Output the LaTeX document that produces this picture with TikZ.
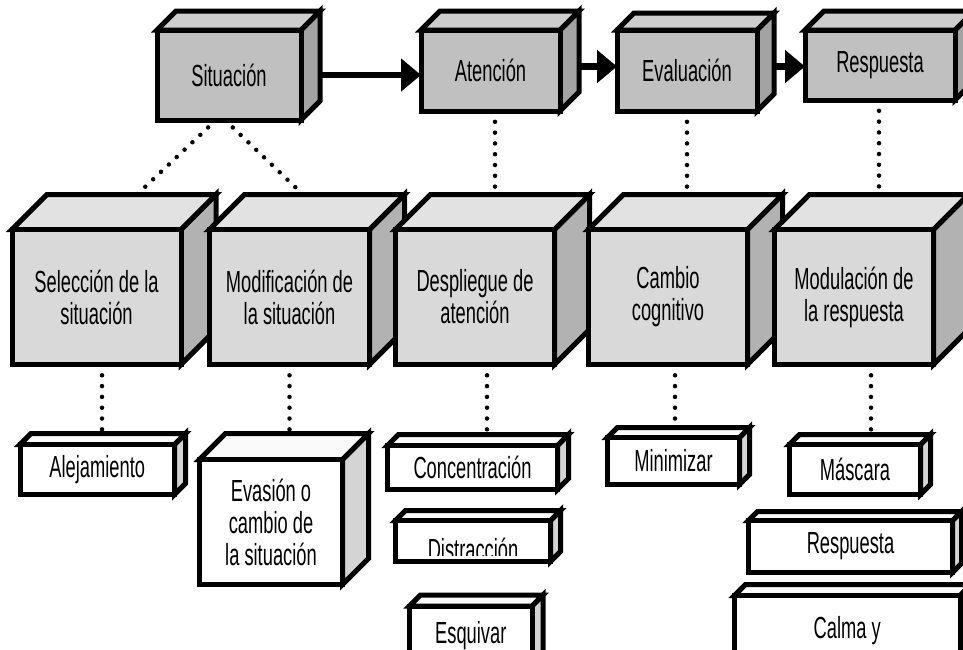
\documentclass[tikz,border=0pt]{standalone}
\usepackage{fontspec}
\setmainfont{Liberation Sans}[FakeStretch=0.6]
\usetikzlibrary{calc,arrows.meta}

% face colours for the three tiers of boxes
\definecolor{hifront}{HTML}{C0C0C0}
\definecolor{hitop}{HTML}{CDCDCD}
\definecolor{hiside}{HTML}{A3A3A3}
\definecolor{midfront}{HTML}{D9D9D9}
\definecolor{midtop}{HTML}{E2E2E2}
\definecolor{midside}{HTML}{B2B2B2}
\definecolor{lofront}{HTML}{FFFFFF}
\definecolor{lotop}{HTML}{FAFAFA}
\definecolor{loside}{HTML}{D4D4D4}

\newcommand\boxfont{\fontsize{30.5}{32}\selectfont}

\tikzset{
  edge/.style={draw=black, line width=5pt, line join=miter},
  facenode/.style={edge, inner sep=0pt, outer sep=0pt, align=center, font=\boxfont},
  labeltext/.style={inner sep=0pt, outer sep=0pt, font=\boxfont},
  dots/.style={line width=4.5pt, line cap=round, dash pattern=on 0pt off 10.8pt},
  flow/.style={line width=6.5pt, -{Triangle[length=20pt,width=32pt]}},
}

% #1 name, (#2,#3) front top-left, (#4,#5) front bottom-right,
% #6 depth, #7 tier prefix, #8 label
\newcommand\cuboid[8]{%
  \draw[edge, fill=#7side] (#4,#3) -- ++(#6,-#6) -- ++(0,#5-#3) -- (#4,#5) -- cycle;
  \draw[edge, fill=#7top] (#2,#3) -- ++(#6,-#6) -- ++(#4-#2,0) -- (#4,#3) -- cycle;
  \node[facenode, fill=#7front, minimum width={#4-#2}, minimum height={#5-#3}]
    (#1) at ({(#2+#4)/2},{(#3+#5)/2}) {#8};
  \coordinate (#1-back) at ($(#1.north)+(#6,-#6)$);
}

\begin{document}
\begin{tikzpicture}[x=1pt, y=-1pt]
\useasboundingbox (0,0) rectangle (963,649);
\clip (0,0) rectangle (963,649);
\fill[white] (0,0) rectangle (963,649);

% reference points of the boxes, needed by the dotted links drawn underneath
\path (229,75) node[minimum width=144, minimum height=90, inner sep=0pt, outer sep=0pt] (sit) {};
\path (490.5,70.5) node[minimum width=139, minimum height=81, inner sep=0pt, outer sep=0pt] (ate) {};
\path (687,70.5) node[minimum width=140, minimum height=81, inner sep=0pt, outer sep=0pt] (eva) {};
\path (880,65) node[minimum width=150, minimum height=70, inner sep=0pt, outer sep=0pt] (res) {};
\path (96.5,297) node[minimum width=169, minimum height=135, inner sep=0pt, outer sep=0pt] (sel) {};
\path (289.5,297) node[minimum width=160, minimum height=135, inner sep=0pt, outer sep=0pt] (modi) {};
\path (475,297) node[minimum width=159, minimum height=135, inner sep=0pt, outer sep=0pt] (des) {};
\path (668,297) node[minimum width=159, minimum height=135, inner sep=0pt, outer sep=0pt] (cam) {};
\path (854,297) node[minimum width=159, minimum height=135, inner sep=0pt, outer sep=0pt] (modu) {};
\coordinate (sel-back) at (131.5,194.5);
\coordinate (modi-back) at (324.5,194.5);
\coordinate (des-back) at (510,194.5);
\coordinate (cam-back) at (703,194.5);
\coordinate (modu-back) at (889,194.5);
\coordinate (ale-back) at (108.25,433.5);
\coordinate (evas-back) at (297,433.5);
\coordinate (con-back) at (483.5,434.5);
\coordinate (mini-back) at (683.5,427.5);
\coordinate (mas-back) at (865,434.5);

% dotted links
\draw[dots] ($(sit.south)+(-13,0)$) -- ($(sel-back)+(5.5,0)$);
\draw[dots] ($(sit.south)+(-4,0)$) -- ($(modi-back)+(-21.5,0)$);
\draw[dots] ($(ate.south)+(4.5,0)$) -- ($(ate.south |- des-back)+(4.5,0)$);
\draw[dots] (eva.south) -- (eva.south |- cam-back);
\draw[dots] ($(res.south)+(-1,0)$) -- ($(res.south |- modu-back)+(-1,0)$);
\draw[dots] ($(sel.south)+(5.5,0)$) -- ($(sel.south |- ale-back)+(5.5,0)$);
\draw[dots] (modi.south) -- (modi.south |- evas-back);
\draw[dots] ($(des.south)+(12,0)$) -- ($(des.south |- con-back)+(12,0)$);
\draw[dots] ($(cam.south)+(7,0)$) -- ($(cam.south |- mini-back)+(7,0)$);
\draw[dots] ($(modu.south)+(17,0)$) -- ($(modu.south |- mas-back)+(17,0)$);

% process stages
\cuboid{sit}{157}{30}{301}{120}{19}{hi}{Situación}
\cuboid{ate}{421}{30}{560}{111}{19}{hi}{Atención}
\cuboid{eva}{617}{30}{757}{111}{17}{hi}{Evaluación}
\cuboid{res}{805}{30}{955}{100}{19}{hi}{Respuesta}

% regulation strategies
\cuboid{sel}{12}{229.5}{181}{364.5}{35}{mid}{Selección de la\\situación}
\cuboid{modi}{209.5}{229.5}{369.5}{364.5}{35}{mid}{Modificación de\\la situación}
\cuboid{des}{395.5}{229.5}{554.5}{364.5}{35}{mid}{Despliegue de\\atención}
\cuboid{cam}{588.5}{229.5}{747.5}{364.5}{35}{mid}{Cambio\\cognitivo}
\cuboid{modu}{774.5}{229.5}{933.5}{364.5}{35}{mid}{Modulación de\\la respuesta}

% examples
\cuboid{ale}{20}{444.5}{174.5}{494.5}{11}{lo}{Alejamiento}
\cuboid{evas}{199.5}{459.5}{342.5}{584.5}{26}{lo}{Evasión o\\cambio de\\la situación}
\cuboid{con}{387.5}{445.5}{557.5}{489.5}{11}{lo}{Concentración}
\cuboid{dis}{395.5}{520.5}{550.5}{561.5}{10}{lo}{}
\begin{scope}
  \clip ($(dis.north west)+(2.5,2.5)$) rectangle ($(dis.south east)+(-2.5,-6)$);
  \node[labeltext, anchor=base] (dis-label) at ($(dis.center)+(0,19)$) {Distracción};
\end{scope}
\cuboid{esq}{409.5}{606}{532}{665}{11}{lo}{Esquivar}
\cuboid{mini}{607.5}{437.5}{739.5}{484.5}{10}{lo}{Minimizar}
\cuboid{mas}{789.5}{444.5}{920.5}{494.5}{10}{lo}{Máscara}
\cuboid{resp}{748.5}{520.5}{952.5}{572.5}{9}{lo}{Respuesta}
\cuboid{calm}{734.5}{595.5}{960}{665}{11}{lo}{Calma y}

% sequence arrows
\draw[flow] ($(sit.east)+(19,0)$) -- (sit.east -| ate.west);
\draw[flow] ($(ate.east)+(19,-4)$) -- ($(eva.west)+(0,-4)$);
\draw[flow] ($(eva.east)+(17,-4)$) -- ($(eva.east -| res.west)+(0,-4)$);
\end{tikzpicture}
\end{document}
